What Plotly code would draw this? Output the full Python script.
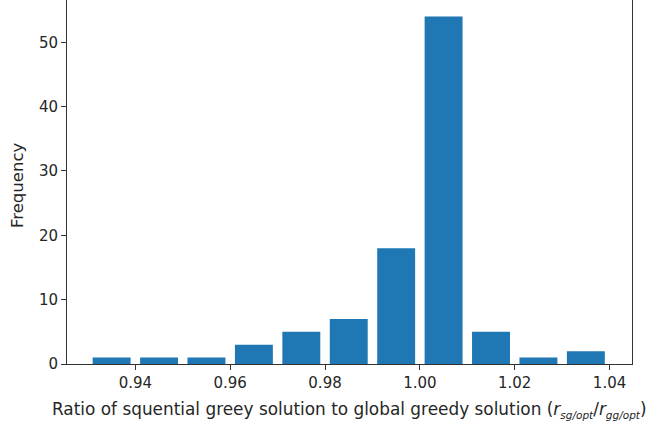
import plotly.graph_objects as go

# Histogram bin centres (ratio values) and counts
bin_centers = [0.935, 0.945, 0.955, 0.965, 0.975, 0.985, 0.995, 1.005, 1.015, 1.025, 1.035]
counts = [1, 1, 1, 3, 5, 7, 18, 54, 5, 1, 2]
x_ticks = [0.94, 0.96, 0.98, 1.00, 1.02, 1.04]
x_tick_labels = ["0.94", "0.96", "0.98", "1.00", "1.02", "1.04"]
y_ticks = [0, 10, 20, 30, 40, 50]

W, H = 651, 428
L, R, T, B = 67, 19, 0, 64
pw, ph = W - L - R, H - T - B

font = dict(family="DejaVu Sans", size=15, color="#262626")
xlabel_font = dict(family="DejaVu Sans", size=16.9, color="#262626")
ylabel_font = dict(family="DejaVu Sans", size=16.5, color="#262626")

fig = go.Figure()
fig.add_trace(go.Bar(
    x=bin_centers, y=counts, width=0.008,
    marker=dict(color="#1f77b4", line=dict(width=0)),
))

fig.update_layout(
    width=W, height=H,
    margin=dict(l=L, r=R, t=T, b=B, pad=0),
    paper_bgcolor="white", plot_bgcolor="white",
    showlegend=False, font=font,
    xaxis=dict(range=[0.92559, 1.04473], tickvals=x_ticks, ticktext=x_tick_labels,
               ticks="outside", ticklen=5, tickwidth=1, tickcolor="#333",
               showline=True, linecolor="#333", linewidth=1, showgrid=False,
               zeroline=False, tickfont=font),
    yaxis=dict(range=[0, 56.57], tickvals=y_ticks,
               ticks="outside", ticklen=5, tickwidth=1, tickcolor="#333",
               showline=True, mirror=True, linecolor="#333", linewidth=1,
               showgrid=False, zeroline=False, tickfont=font),
)

sub = '<sub><span style="font-size:10.5px"><i>{}</i></span></sub>'
fig.add_annotation(
    xref="paper", yref="paper", x=(50 - L) / pw, y=(364 - 410) / ph,
    xanchor="left", yanchor="middle", showarrow=False, font=xlabel_font,
    text="Ratio of squential greey solution to global greedy solution "
         "(<i>r</i>" + sub.format("sg/opt") + "/<i>r</i>" + sub.format("gg/opt") + ")",
)
fig.add_annotation(
    xref="paper", yref="paper", x=(17 - L) / pw, y=(364 - 186) / ph,
    xanchor="center", yanchor="middle", showarrow=False, font=ylabel_font,
    text="Frequency", textangle=-90,
)

fig.write_html("out.html", config={"displayModeBar": False},
               post_script="document.body.style.margin='0';")
